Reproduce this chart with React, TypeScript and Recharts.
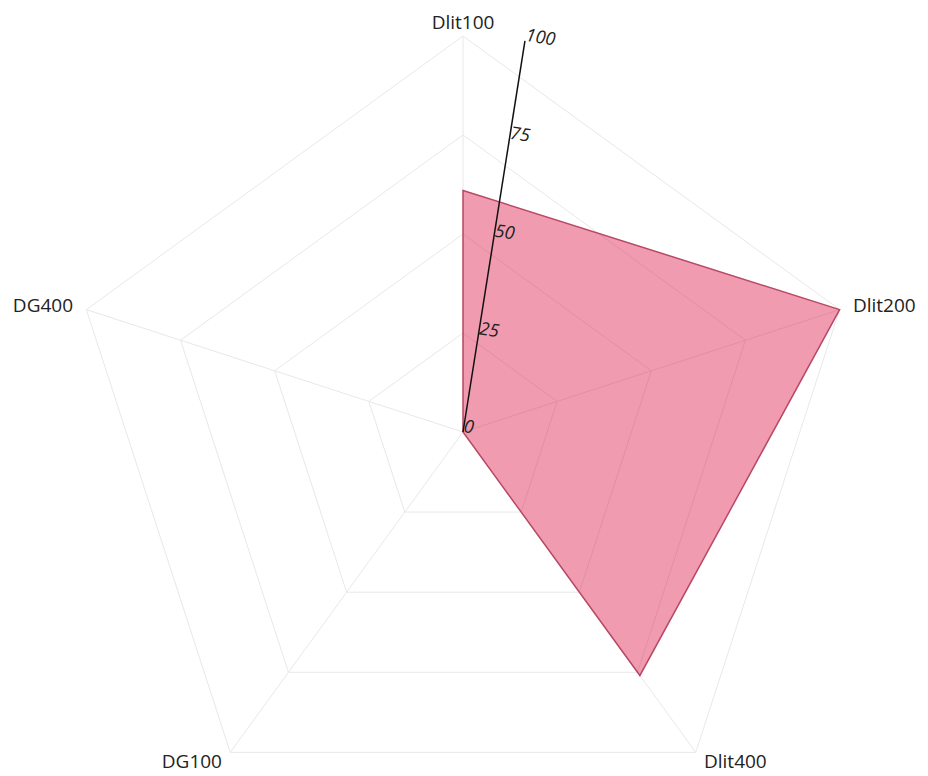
import { RadarChart, PolarGrid, PolarAngleAxis, PolarRadiusAxis, Radar } from 'recharts'

const CATEGORIES = ['Dlit100', 'Dlit200', 'Dlit400', 'DG100', 'DG400']
const VALUES = [61, 100, 76, 0, 0]
const RADIUS_TICKS = [0, 25, 50, 75, 100]

const FONT = '"Open Sans", "Noto Sans", sans-serif'
const CY = 432

// angle labels: bottom ones sit on their anchor so they stay inside the page
function AngleTick(props: any) {
  const { x, y, textAnchor, payload } = props
  const below = y > CY + 200
  return (
    <text
      x={x}
      y={below ? y + 4 : y}
      textAnchor={textAnchor}
      dominantBaseline={below ? 'auto' : 'central'}
      fill="#222"
      fontSize={19}
      fontFamily={FONT}
    >
      {payload.value}
    </text>
  )
}

export default function App() {
  const data = CATEGORIES.map((name, i) => ({ name, value: VALUES[i] }))

  return (
    <div style={{ fontFamily: FONT, margin: -8, width: 928, height: 776, overflow: 'hidden' }}>
      <RadarChart
        width={928}
        height={776}
        data={data}
        cx={463}
        cy={CY}
        outerRadius={396}
        margin={{ top: 0, right: 0, bottom: 0, left: 0 }}
      >
        <PolarGrid stroke="#e8e8e8" strokeWidth={1} />
        <PolarAngleAxis dataKey="name" tickSize={14} tick={<AngleTick />} tickLine={false} />
        <PolarRadiusAxis
          angle={81}
          domain={[0, 100]}
          ticks={RADIUS_TICKS}
          stroke="#111"
          axisLine={{ stroke: '#111', strokeWidth: 1.5 }}
          tickLine={false}
          tick={{ fill: '#222', fontSize: 18, fontFamily: FONT, fontStyle: 'italic' }}
        />
        <Radar
          dataKey="value"
          fill="#e0224f"
          fillOpacity={0.45}
          stroke="#b84866"
          strokeWidth={1.5}
          isAnimationActive={false}
        />
      </RadarChart>
    </div>
  )
}
